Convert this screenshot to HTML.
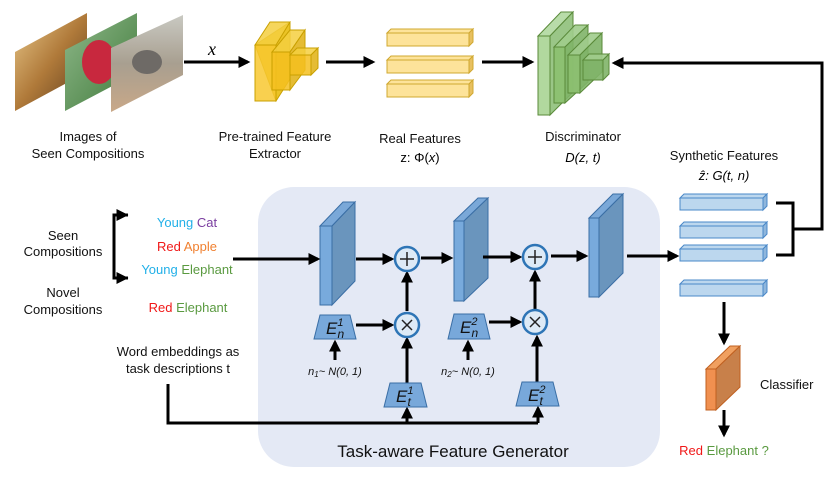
<!DOCTYPE html>
<html><head><meta charset="utf-8"><style>
html,body{margin:0;padding:0;background:#fff;}
svg{display:block;}
text{font-family:"Liberation Sans",sans-serif;}
.m{font-family:"Liberation Serif",serif;font-style:italic;}
</style></head><body>
<svg width="830" height="488" viewBox="0 0 830 488" xmlns="http://www.w3.org/2000/svg">
<defs>
<marker id="a" markerWidth="4" markerHeight="4" refX="3.2" refY="2" orient="auto" markerUnits="strokeWidth"><path d="M0,0 L4,2 L0,4 z" fill="#000"/></marker>
<linearGradient id="cat" x1="0" y1="0" x2="1" y2="1"><stop offset="0" stop-color="#e8c88a"/><stop offset="0.5" stop-color="#b07a3a"/><stop offset="1" stop-color="#5a3a1c"/></linearGradient>
<linearGradient id="app" x1="0" y1="0" x2="1" y2="1"><stop offset="0" stop-color="#8fb88a"/><stop offset="1" stop-color="#3f7a3a"/></linearGradient>
<linearGradient id="ele" x1="0" y1="0" x2="0" y2="1"><stop offset="0" stop-color="#c9c9c2"/><stop offset="0.5" stop-color="#a89f90"/><stop offset="1" stop-color="#c9a888"/></linearGradient>
</defs>

<!-- images -->
<polygon points="15,52 87,13 87,72 15,111" fill="url(#cat)"/>
<polygon points="65,50 137,13 137,73 65,111" fill="url(#app)"/>
<ellipse cx="99" cy="62" rx="17" ry="22" fill="#c8283e"/>
<polygon points="111,48 183,15 183,75 111,112" fill="url(#ele)"/>
<ellipse cx="147" cy="62" rx="15" ry="12" fill="#6e6a66"/>

<line x1="184" y1="62" x2="248" y2="62" stroke="#000" stroke-width="3" marker-end="url(#a)"/>
<text x="208" y="55" class="m" font-size="18">x</text>

<!-- feature extractor yellow -->
<g stroke="#c9a000" stroke-width="1" fill-opacity="0.85">
<polygon points="255,45 290,22 290,79 276,101" fill="#e8b800"/>
<polygon points="255,45 270,22 290,22 276,45" fill="#f5cf40"/>
<rect x="255" y="45" width="21" height="56" fill="#f8c830"/>
<polygon points="272,52 290,52 305,30 290,30" fill="#f5cf40"/>
<polygon points="290,52 305,30 305,70 290,90" fill="#e0b010"/>
<rect x="272" y="52" width="18" height="38" fill="#f5c020"/>
<polygon points="290,55 297,48 318,48 311,55" fill="#f5cf40"/>
<polygon points="311,55 318,48 318,68 311,75" fill="#e0b010"/>
<rect x="290" y="55" width="21" height="20" fill="#f5c020"/>
</g>
<line x1="326" y1="62" x2="373" y2="62" stroke="#000" stroke-width="3" marker-end="url(#a)"/>

<!-- real features -->
<g stroke="#d0a830" stroke-width="1">
<g><rect x="387" y="33" width="82" height="13" fill="#fde39a"/><polygon points="387,33 391,29 473,29 469,33" fill="#fde39a"/><polygon points="469,33 473,29 473,42 469,46" fill="#e8c060"/></g>
<g><rect x="387" y="60" width="82" height="13" fill="#fde39a"/><polygon points="387,60 391,56 473,56 469,60" fill="#fde39a"/><polygon points="469,60 473,56 473,69 469,73" fill="#e8c060"/></g>
<g><rect x="387" y="84" width="82" height="13" fill="#fde39a"/><polygon points="387,84 391,80 473,80 469,84" fill="#fde39a"/><polygon points="469,84 473,80 473,93 469,97" fill="#e8c060"/></g>
</g>
<line x1="482" y1="62" x2="532" y2="62" stroke="#000" stroke-width="3" marker-end="url(#a)"/>

<!-- discriminator green -->
<g stroke="#5a8a3a" stroke-width="1" fill-opacity="0.9">
<polygon points="538,36 561,12 573,12 550,36" fill="#b0d8a0"/>
<polygon points="550,36 573,12 573,92 550,115" fill="#8fc07a"/>
<rect x="538" y="36" width="12" height="79" fill="#a8d494"/>
<polygon points="554,47 575,25 588,25 565,47" fill="#a0cc8c"/>
<polygon points="565,47 588,25 588,82 565,103" fill="#80b468"/>
<rect x="554" y="47" width="11" height="56" fill="#8cc070"/>
<polygon points="568,55 590,33 602,33 580,55" fill="#a0cc8c"/>
<polygon points="580,55 602,33 602,72 580,93" fill="#80b468"/>
<rect x="568" y="55" width="12" height="38" fill="#8cc070"/>
<polygon points="583,60 589,54 609,54 603,60" fill="#a0cc8c"/>
<polygon points="603,60 609,54 609,74 603,80" fill="#80b468"/>
<rect x="583" y="60" width="20" height="20" fill="#80b468"/>
</g>

<!-- feedback loop -->
<polyline points="776,203 793,203 793,255 776,255" fill="none" stroke="#000" stroke-width="3"/>
<polyline points="793,229 822,229 822,63 614,63" fill="none" stroke="#000" stroke-width="3" marker-end="url(#a)"/>

<!-- labels top -->
<g font-size="13" text-anchor="middle" fill="#111">
<text x="88" y="141">Images of</text>
<text x="88" y="158">Seen Compositions</text>
<text x="275" y="141">Pre-trained Feature</text>
<text x="275" y="158">Extractor</text>
<text x="420" y="143">Real Features</text>
<text x="583" y="141">Discriminator</text>
<text x="724" y="160">Synthetic Features</text>
</g>
<g font-size="13" text-anchor="middle" font-family="Liberation Serif,serif">
<text x="420" y="162" font-family="Liberation Serif,serif">z: Φ(<tspan font-style="italic">x</tspan>)</text>
<text x="583" y="162" font-family="Liberation Serif,serif" font-style="italic">D(z, t)</text>
<text x="724" y="180" font-family="Liberation Serif,serif" font-style="italic">ẑ: G(t, n)</text>
</g>

<!-- generator background -->
<rect x="258" y="187" width="402" height="280" rx="36" fill="#e4e9f5"/>

<!-- synthetic bars -->
<g stroke="#4a88c8" stroke-width="1">
<g><rect x="680" y="198" width="83" height="12" fill="#bcd7ee"/><polygon points="680,198 684,194 767,194 763,198" fill="#bcd7ee"/><polygon points="763,198 767,194 767,206 763,210" fill="#8fb6dc"/></g>
<g><rect x="680" y="226" width="83" height="12" fill="#bcd7ee"/><polygon points="680,226 684,222 767,222 763,226" fill="#bcd7ee"/><polygon points="763,226 767,222 767,234 763,238" fill="#8fb6dc"/></g>
<g><rect x="680" y="249" width="83" height="12" fill="#bcd7ee"/><polygon points="680,249 684,245 767,245 763,249" fill="#bcd7ee"/><polygon points="763,249 767,245 767,257 763,261" fill="#8fb6dc"/></g>
<g><rect x="680" y="284" width="83" height="12" fill="#bcd7ee"/><polygon points="680,284 684,280 767,280 763,284" fill="#bcd7ee"/><polygon points="763,284 767,280 767,292 763,296" fill="#8fb6dc"/></g>
</g>

<!-- slabs -->
<g stroke="#3a6ea5" stroke-width="1">
<polygon points="320,226 343,202 355,202 332,226" fill="#7aa8d8"/>
<polygon points="332,226 355,202 355,281 332,305" fill="#6a95bd"/>
<rect x="320" y="226" width="12" height="79" fill="#78aadc"/>
<polygon points="454,221 478,198 488,198 464,221" fill="#7aa8d8"/>
<polygon points="464,221 488,198 488,278 464,301" fill="#6a95bd"/>
<rect x="454" y="221" width="10" height="80" fill="#78aadc"/>
<polygon points="589,218 613,194 623,194 599,218" fill="#7aa8d8"/>
<polygon points="599,218 623,194 623,273 599,297" fill="#6a95bd"/>
<rect x="589" y="218" width="10" height="79" fill="#78aadc"/>
</g>

<!-- main flow -->
<g stroke="#000" stroke-width="3" fill="none">
<line x1="233" y1="259" x2="318" y2="259" marker-end="url(#a)"/>
<line x1="356" y1="259" x2="392" y2="259" marker-end="url(#a)"/>
<line x1="421" y1="258" x2="451" y2="258" marker-end="url(#a)"/>
<line x1="483" y1="257" x2="520" y2="257" marker-end="url(#a)"/>
<line x1="551" y1="256" x2="586" y2="256" marker-end="url(#a)"/>
<line x1="627" y1="256" x2="677" y2="256" marker-end="url(#a)"/>
<line x1="407" y1="311" x2="407" y2="273" marker-end="url(#a)"/>
<line x1="535" y1="309" x2="535" y2="272" marker-end="url(#a)"/>
<line x1="356" y1="325" x2="392" y2="325" marker-end="url(#a)"/>
<line x1="489" y1="322" x2="520" y2="322" marker-end="url(#a)"/>
<line x1="407" y1="383" x2="407" y2="339" marker-end="url(#a)"/>
<line x1="537" y1="382" x2="537" y2="337" marker-end="url(#a)"/>
<line x1="335" y1="360" x2="335" y2="342" marker-end="url(#a)"/>
<line x1="468" y1="360" x2="468" y2="342" marker-end="url(#a)"/>
<polyline points="168,384 168,423 538,423"/>
<line x1="407" y1="423" x2="407" y2="409" marker-end="url(#a)"/>
<line x1="538" y1="423" x2="538" y2="408" marker-end="url(#a)"/>
<polyline points="128,215 114,215 114,278 128,278"/>
<line x1="114" y1="215" x2="126" y2="215" marker-end="url(#a)"/>
<line x1="114" y1="278" x2="126" y2="278" marker-end="url(#a)"/>
<line x1="724" y1="302" x2="724" y2="343" marker-end="url(#a)"/>
<line x1="724" y1="410" x2="724" y2="435" marker-end="url(#a)"/>
</g>

<!-- circles -->
<g stroke="#2e75b6" stroke-width="2.5" fill="#ddeaf6">
<circle cx="407" cy="259" r="12"/><circle cx="535" cy="257" r="12"/>
<circle cx="407" cy="325" r="12"/><circle cx="535" cy="322" r="12"/>
</g>
<g stroke="#222" stroke-width="1.5">
<line x1="400" y1="259" x2="414" y2="259"/><line x1="407" y1="252" x2="407" y2="266"/>
<line x1="528" y1="257" x2="542" y2="257"/><line x1="535" y1="250" x2="535" y2="264"/>
<line x1="402" y1="320" x2="412" y2="330"/><line x1="412" y1="320" x2="402" y2="330"/>
<line x1="530" y1="317" x2="540" y2="327"/><line x1="540" y1="317" x2="530" y2="327"/>
</g>

<!-- trapezoids -->
<g stroke="#3a6ea5" stroke-width="1" fill="#78a8da">
<polygon points="320,315 350,315 356,339 314,339"/>
<polygon points="454,314 484,314 490,339 448,339"/>
<polygon points="390,383 421,383 427,407 384,407"/>
<polygon points="522,382 553,382 559,406 516,406"/>
</g>
<g font-family="Liberation Serif,serif" font-style="italic" fill="#111">
<text x="326" y="334" font-size="17">E<tspan font-size="11" dy="-8">1</tspan><tspan font-size="12" dx="-6" dy="12">n</tspan></text>
<text x="460" y="333" font-size="17">E<tspan font-size="11" dy="-8">2</tspan><tspan font-size="12" dx="-6" dy="12">n</tspan></text>
<text x="396" y="402" font-size="17">E<tspan font-size="11" dy="-8">1</tspan><tspan font-size="12" dx="-6" dy="12">t</tspan></text>
<text x="528" y="401" font-size="17">E<tspan font-size="11" dy="-8">2</tspan><tspan font-size="12" dx="-6" dy="12">t</tspan></text>
<text x="335" y="375" font-size="11" text-anchor="middle">n<tspan font-size="8" dy="2">1</tspan><tspan dy="-2">~ N(0, 1)</tspan></text>
<text x="468" y="375" font-size="11" text-anchor="middle">n<tspan font-size="8" dy="2">2</tspan><tspan dy="-2">~ N(0, 1)</tspan></text>
</g>

<text x="453" y="457" font-size="17" text-anchor="middle" fill="#111">Task-aware Feature Generator</text>

<!-- left texts -->
<g font-size="13" text-anchor="middle" fill="#111">
<text x="63" y="240">Seen</text>
<text x="63" y="256">Compositions</text>
<text x="63" y="297">Novel</text>
<text x="63" y="314">Compositions</text>
<text x="178" y="356">Word embeddings as</text>
<text x="178" y="373">task descriptions t</text>
<text x="760" y="389" text-anchor="start">Classifier</text>
</g>
<g font-size="13" text-anchor="middle">
<text x="187" y="227"><tspan fill="#22b0e8">Young</tspan> <tspan fill="#7a3ea0">Cat</tspan></text>
<text x="187" y="251"><tspan fill="#f01818">Red</tspan> <tspan fill="#f08030">Apple</tspan></text>
<text x="187" y="274"><tspan fill="#22b0e8">Young</tspan> <tspan fill="#5a9a40">Elephant</tspan></text>
<text x="188" y="312"><tspan fill="#f01818">Red</tspan> <tspan fill="#5a9a40">Elephant</tspan></text>
<text x="724" y="455"><tspan fill="#f01818">Red</tspan> <tspan fill="#5a9a40">Elephant ?</tspan></text>
</g>

<!-- classifier -->
<g stroke="#c06020" stroke-width="1">
<polygon points="706,369 730,346 740,346 716,369" fill="#f0a060"/>
<polygon points="716,369 740,346 740,387 716,410" fill="#c8804a"/>
<rect x="706" y="369" width="10" height="41" fill="#f09050"/>
</g>
</svg>
</body></html>
